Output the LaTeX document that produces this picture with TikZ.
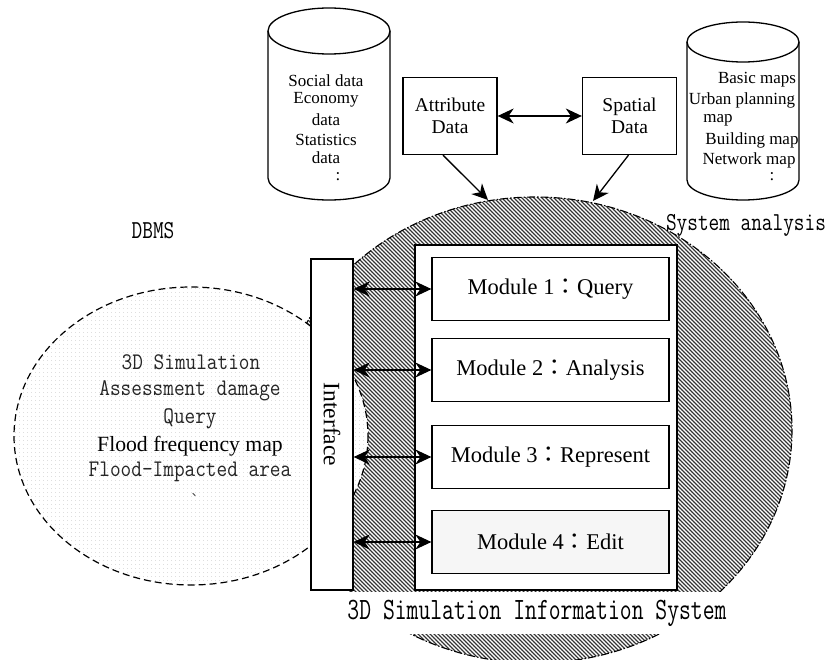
\documentclass[tikz,border=0pt]{standalone}
\usepackage{fontspec}
\usepackage{graphicx}
\setmainfont{Liberation Serif}
\newfontfamily\cjk{Noto Sans CJK TC}
\usetikzlibrary{arrows.meta,patterns.meta}

% full width colon used in the module labels
\newcommand{\fcolon}{{\cjk ：}}

\tikzset{
    box/.style={draw, line width=1.3pt, fill=white, inner sep=0pt},
    modbox/.style={box, minimum width=237pt, minimum height=63pt, font=\fontsize{22.5}{26}\selectfont},
    databox/.style={box, minimum width=94pt, minimum height=77pt, align=center, font=\fontsize{19.5}{22}\selectfont},
    cyl/.style={line width=1.3pt},
    cyltext/.style={inner sep=0pt, font=\fontsize{17}{19}\selectfont},
    monotext/.style={inner sep=0pt, text=black!85},
    dbl/.style={{Stealth[length=16pt,width=15pt,inset=5pt]}-{Stealth[length=16pt,width=15pt,inset=5pt]}, line width=1.3pt},
    one/.style={-{Stealth[length=16pt,width=15pt,inset=5pt]}, line width=1.3pt},
}

% tall narrow typewriter text
\newcommand{\tallmono}[3]{\scalebox{1}[#1]{\fontsize{#2}{24}\ttfamily #3}}

\begin{document}
\begin{tikzpicture}[x=1pt,y=-1pt]
    \useasboundingbox (0,0) rectangle (831,660);

    % system analysis area and DBMS area
    \draw[line width=1.1pt, dash pattern=on 8pt off 2pt on 1.5pt off 2pt,
        pattern={Lines[angle=-45,distance=2.8284pt,line width=1.3pt]}, pattern color=black!80,
        preaction={fill=white}]
        (535,430) ellipse [x radius=257, y radius=233];
    \draw[line width=1.2pt, dash pattern=on 7pt off 4pt,
        pattern={Dots[distance=4pt,radius=0.45pt]}, pattern color=gray!45, preaction={fill=white}]
        (191,436) ellipse [x radius=177, y radius=149];

    % databases
    \draw[cyl, fill=white] (329,31) ellipse [x radius=61, y radius=23];
    \draw[cyl] (268,31) -- (268,178) arc [start angle=180, end angle=0, x radius=61, y radius=22] -- (390,31);
    \draw[cyl, fill=white] (743,42) ellipse [x radius=56, y radius=20];
    \draw[cyl] (687,42) -- (687,180) arc [start angle=180, end angle=0, x radius=56, y radius=20] -- (799,42);

    \node[cyltext] (soc) at (326,81) {Social data};
    \node[cyltext] (eco) at (326,100) {Economy};
    \node[cyltext] (ecod) at (326,120) {data};
    \node[cyltext] (sta) at (326,140) {Statistics};
    \node[cyltext] (stad) at (326,158) {data};
    \node[cyltext] (socdots) at (338,177) {:};

    \node[cyltext] (bas) at (757,80) {Basic maps};
    \node[cyltext] (urb) at (742,100) {Urban planning};
    \node[cyltext] (urbm) at (718,120) {map};
    \node[cyltext] (bld) at (752,140) {Building map};
    \node[cyltext] (net) at (749,160) {Network map};
    \node[cyltext] (netdots) at (772,177) {:};

    % attribute and spatial data
    \node[databox] (attr) at (450,116) {Attribute\\Data};
    \node[databox] (spat) at (629.5,116) {Spatial\\Data};
    \draw[dbl] (attr) -- (spat);
    \coordinate (hitA) at (488,200);
    \coordinate (hitS) at (593,201);
    \draw[one] ([xshift=-7pt]attr.south) -- (hitA);
    \draw[one] ([xshift=-1pt]spat.south) -- (hitS);

    \node[inner sep=0pt] (sysan) at (746,225) {\tallmono{1.25}{20.7}{System analysis}};
    \node[inner sep=0pt] (dbms) at (153,231) {\tallmono{1.25}{20.7}{DBMS}};

    % what the DBMS side offers
    \node[monotext] (sim) at (191,362) {\tallmono{1.15}{20.7}{3D Simulation}};
    \node[monotext] (ass) at (190,391) {\tallmono{1.15}{20.7}{Assessment damage}};
    \node[monotext] (qry) at (190,419) {\tallmono{1.15}{20.7}{Query}};
    \node[inner sep=0pt, font=\fontsize{21.7}{24}\selectfont] (freq) at (190,446) {Flood frequency map};
    \node[monotext] (imp) at (190,472) {\tallmono{1.15}{20.7}{Flood-Impacted area}};
    \node[inner sep=0pt, text=black!75, font=\fontsize{12}{12}\cjk] (tick) at (194,496) {、};

    % interface and modules
    \node[box, minimum width=42pt, minimum height=331pt] (iface) at (332,424.5) {};
    \node[rotate=-90, font=\fontsize{23.5}{26}\selectfont] (ifacetext) at (332,424.5) {Interface};
    \node[box, minimum width=262pt, minimum height=345pt] (frame) at (546,417.5) {};

    \node[modbox] (m1) at (550.5,289) {Module 1\fcolon Query};
    \node[modbox] (m2) at (550.5,370) {Module 2\fcolon Analysis};
    \node[modbox] (m3) at (550.5,457) {Module 3\fcolon Represent};
    \node[modbox, fill=gray!7] (m4) at (550.5,542) {Module 4\fcolon Edit};
    \foreach \m in {m1,m2,m3,m4}
        \draw[dbl] (iface.east |- \m.west) -- (\m.west);

    % title band cuts through the hatched area
    \node[fill=white, minimum width=520pt, minimum height=42pt, inner sep=0pt] (title) at (537,613)
        {\raisebox{5pt}{\tallmono{1.35}{23}{3D Simulation Information System}}};
\end{tikzpicture}
\end{document}
